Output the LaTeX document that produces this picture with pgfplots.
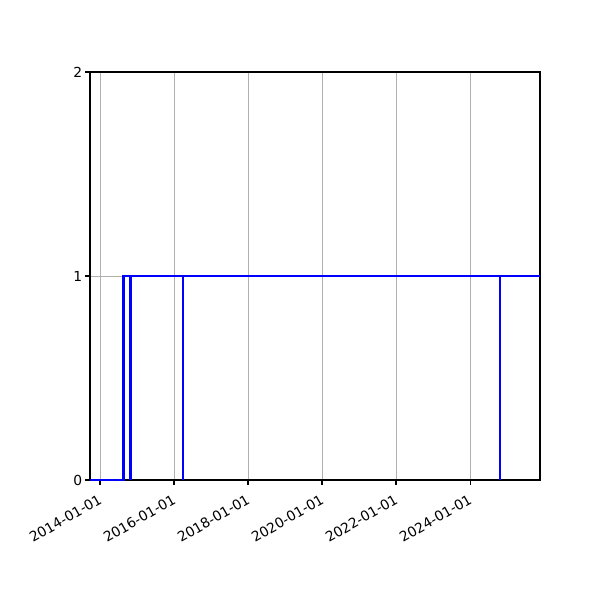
\documentclass[border=0pt]{standalone}
\usepackage{fontspec}
\setmainfont{DejaVu Sans}
\usepackage{pgfplots}
\pgfplotsset{compat=1.18}

\begin{document}
\begin{tikzpicture}
\useasboundingbox (-0.9in,-1.2in) rectangle (5.1in,4.8in);
\begin{axis}[
    at={(0,0)}, anchor=south west,
    scale only axis,
    width=4.5in, height=4.08in,
    xmin=2013.73, xmax=2025.89,
    ymin=0, ymax=2,
    xtick={2014,2016,2018,2020,2022,2024},
    xticklabels={2014-01-01,2016-01-01,2018-01-01,2020-01-01,2022-01-01,2024-01-01},
    ytick={0,1,2},
    xtick pos=bottom, ytick pos=left,
    /pgf/number format/assume math mode=true,
    xticklabel style={rotate=30, anchor=north east, inner sep=1pt, xshift=-3.5pt, yshift=-3.5pt},
    yticklabel style={inner sep=2pt},
    tick align=outside,
    major tick length=3.5pt,
    tick style={black, line width=0.8pt},
    axis line style={line width=0.8pt},
    xmajorgrids, ymajorgrids,
    major grid style={color=black!31, line width=0.7pt},
    font=\fontsize{10}{12}\selectfont,
    clip=false,
]
% series starting at zero and stepping up
\addplot[blue, line width=1.6pt] coordinates {
    (2013.73,0) (2014.635,0) (2014.635,1) (2025.89,1)
};
\addplot[blue, line width=2pt] coordinates {
    (2014.82,0) (2014.82,1) (2025.89,1)
};
\addplot[blue, line width=2pt] coordinates {
    (2016.243,0) (2016.243,1) (2025.89,1)
};
\addplot[blue, line width=2pt] coordinates {
    (2024.81,0) (2024.81,1) (2025.89,1)
};
\end{axis}
\end{tikzpicture}
\end{document}
